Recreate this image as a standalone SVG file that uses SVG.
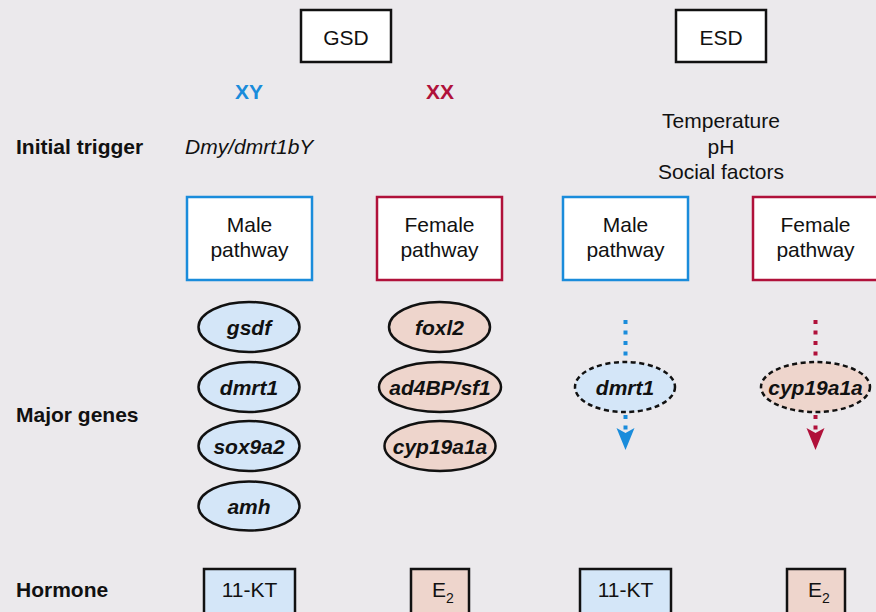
<svg xmlns="http://www.w3.org/2000/svg" width="876" height="612" viewBox="0 0 876 612">
  <style>
    text { font-family: "Liberation Sans", Arial, sans-serif; font-size: 21px; fill: #111; }
    .mid { text-anchor: middle; }
    .lbl { font-weight: bold; }
    .gene { font-weight: bold; font-style: italic; text-anchor: middle; }
    .top { fill: #fff; stroke: #111; stroke-width: 2.5; }
    .pm { fill: #fff; stroke: #1a8cdb; stroke-width: 2.5; }
    .pf { fill: #fff; stroke: #b0113a; stroke-width: 2.5; }
    .gm { fill: #d4e6f8; stroke: #111; stroke-width: 2.5; }
    .gf { fill: #eed5cc; stroke: #111; stroke-width: 2.5; }
    .dash { stroke-dasharray: 5 3.5; }
    .hm { fill: #d4e6f8; stroke: #111; stroke-width: 2.5; }
    .hf { fill: #eed5cc; stroke: #111; stroke-width: 2.5; }
    .dotm { stroke: #1a8cdb; stroke-width: 4; stroke-dasharray: 4 6.5; fill: none; }
    .dotf { stroke: #b0113a; stroke-width: 4; stroke-dasharray: 4 6.5; fill: none; }
  </style>
  <rect width="876" height="612" fill="#ebe9ec"/>

  <!-- row labels -->
  <g id="row-labels">
    <text class="lbl" x="16" y="154">Initial trigger</text>
    <text class="lbl" x="16" y="422">Major genes</text>
    <text class="lbl" x="16" y="597">Hormone</text>
  </g>

  <!-- sex-determination systems -->
  <g id="gsd">
    <rect class="top" x="301" y="10" width="90" height="52"/>
    <text class="mid" x="346" y="45">GSD</text>
  </g>
  <g id="esd">
    <rect class="top" x="676" y="10" width="90" height="52"/>
    <text class="mid" x="721" y="45">ESD</text>
  </g>

  <g id="xy">
    <text class="lbl mid" x="249" y="99" style="fill:#1a8cdb">XY</text>
  </g>
  <g id="xx">
    <text class="lbl mid" x="440" y="99" style="fill:#b0113a">XX</text>
  </g>

  <g id="trigger-gsd">
    <text x="185" y="154" font-style="italic">Dmy/dmrt1bY</text>
  </g>
  <g id="trigger-esd">
    <text class="mid" x="721" y="128">Temperature</text>
    <text class="mid" x="721" y="154">pH</text>
    <text class="mid" x="721" y="179">Social factors</text>
  </g>

  <!-- pathways -->
  <g id="gsd-male-pathway">
    <rect class="pm" x="187" y="197" width="125" height="83"/>
    <text class="mid" x="249.5" y="232">Male</text>
    <text class="mid" x="249.5" y="257">pathway</text>
  </g>
  <g id="gsd-female-pathway">
    <rect class="pf" x="377" y="197" width="125" height="83"/>
    <text class="mid" x="439.5" y="232">Female</text>
    <text class="mid" x="439.5" y="257">pathway</text>
  </g>
  <g id="esd-male-pathway">
    <rect class="pm" x="563" y="197" width="125" height="83"/>
    <text class="mid" x="625.5" y="232">Male</text>
    <text class="mid" x="625.5" y="257">pathway</text>
  </g>
  <g id="esd-female-pathway">
    <rect class="pf" x="753" y="197" width="125" height="83"/>
    <text class="mid" x="815.5" y="232">Female</text>
    <text class="mid" x="815.5" y="257">pathway</text>
  </g>

  <!-- GSD genes -->
  <g id="gene-gsdf">
    <ellipse class="gm" cx="249" cy="327" rx="50.5" ry="25"/>
    <text class="gene" x="249" y="334.5">gsdf</text>
  </g>
  <g id="gene-dmrt1">
    <ellipse class="gm" cx="249" cy="387" rx="50.5" ry="25"/>
    <text class="gene" x="249" y="394.5">dmrt1</text>
  </g>
  <g id="gene-sox9a2">
    <ellipse class="gm" cx="249" cy="446" rx="50.5" ry="25"/>
    <text class="gene" x="249" y="453.5">sox9a2</text>
  </g>
  <g id="gene-amh">
    <ellipse class="gm" cx="249" cy="506" rx="50.5" ry="24.5"/>
    <text class="gene" x="249" y="513.5">amh</text>
  </g>
  <g id="gene-foxl2">
    <ellipse class="gf" cx="439.5" cy="327" rx="50.5" ry="25"/>
    <text class="gene" x="439.5" y="334.5">foxl2</text>
  </g>
  <g id="gene-ad4bp">
    <ellipse class="gf" cx="440" cy="387" rx="61" ry="25"/>
    <text class="gene" x="440" y="394.5">ad4BP/sf1</text>
  </g>
  <g id="gene-cyp19a1a">
    <ellipse class="gf" cx="440" cy="446" rx="55.5" ry="25"/>
    <text class="gene" x="440" y="453.5">cyp19a1a</text>
  </g>

  <!-- ESD genes -->
  <g id="esd-gene-dmrt1">
    <ellipse class="gm dash" cx="625" cy="387" rx="50" ry="25"/>
    <text class="gene" x="625" y="394.5">dmrt1</text>
  </g>
  <g id="esd-gene-cyp19a1a">
    <ellipse class="gf dash" cx="815.5" cy="387" rx="54.5" ry="25"/>
    <text class="gene" x="815.5" y="394.5">cyp19a1a</text>
  </g>

  <!-- connectors -->
  <g id="connectors">
    <line class="dotm" x1="625.5" y1="320" x2="625.5" y2="361"/>
    <line class="dotm" x1="625.5" y1="415" x2="625.5" y2="432"/>
    <path d="M616.5 428 L625.5 433 L634.5 428 L625.5 450 Z" fill="#1a8cdb"/>
    <line class="dotf" x1="815.5" y1="320" x2="815.5" y2="361"/>
    <line class="dotf" x1="815.5" y1="415" x2="815.5" y2="432"/>
    <path d="M806.5 428 L815.5 433 L824.5 428 L815.5 450 Z" fill="#b0113a"/>
  </g>

  <!-- hormones -->
  <g id="hormone-gsd-11kt">
    <rect class="hm" x="204" y="569" width="91" height="50"/>
    <text class="mid" x="249.5" y="597">11-KT</text>
  </g>
  <g id="hormone-gsd-e2">
    <rect class="hf" x="411" y="569" width="58" height="50"/>
    <text x="432" y="597">E<tspan font-size="14" dy="6">2</tspan></text>
  </g>
  <g id="hormone-esd-11kt">
    <rect class="hm" x="580" y="569" width="91" height="50"/>
    <text class="mid" x="625.5" y="597">11-KT</text>
  </g>
  <g id="hormone-esd-e2">
    <rect class="hf" x="787" y="569" width="58" height="50"/>
    <text x="808" y="597">E<tspan font-size="14" dy="6">2</tspan></text>
  </g>
</svg>
